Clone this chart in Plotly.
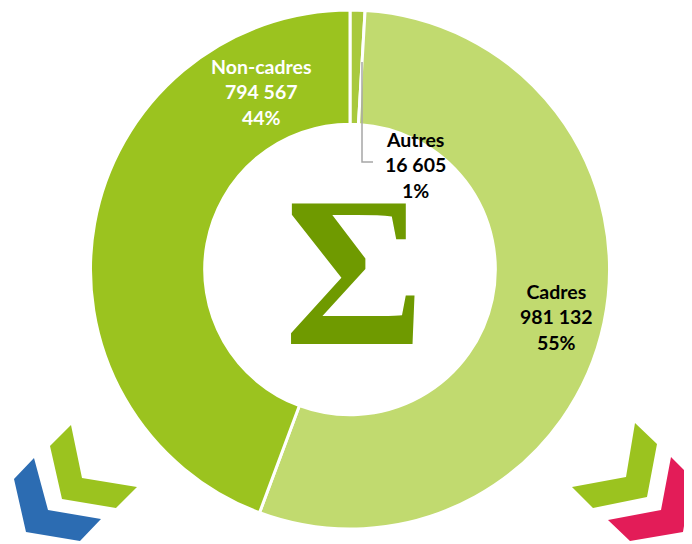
import plotly.graph_objects as go

# page offset of the figure (default body margin of the html page)
OFF = 8
PAGE_W, PAGE_H = 692, 544
W, H = PAGE_W - OFF, PAGE_H - OFF

categories = ["Autres", "Cadres", "Non-cadres"]
values = [16605, 981132, 794567]
value_labels = ["16 605", "981 132", "794 567"]
pct_labels = ["1%", "55%", "44%"]
colors = ["#a9c93d", "#c1da6f", "#9bc31f"]


def px(x, y):
    """page pixel -> paper coordinates"""
    return (x - OFF) / W, 1 - (y - OFF) / H


def path(points):
    s = ""
    for i, (x, y) in enumerate(points):
        fx, fy = px(x, y)
        s += ("M" if i == 0 else "L") + f"{fx:.5f},{fy:.5f} "
    return s + "Z"


dx0, dy0 = px(90, 529)
dx1, dy1 = px(610, 10)
fig = go.Figure()
fig.add_trace(go.Pie(
    labels=categories,
    values=values,
    sort=False,
    direction="clockwise",
    rotation=0,
    hole=0.56,
    marker=dict(colors=colors, line=dict(color="white", width=3)),
    textinfo="none",
    showlegend=False,
    domain=dict(x=[dx0, dx1], y=[dy0, dy1]),
))

label_pos = {"Autres": (415, 165, "#000000"),
             "Cadres": (556, 317, "#000000"),
             "Non-cadres": (261, 92, "#ffffff")}
annotations = []
for c, v, p in zip(categories, value_labels, pct_labels):
    x, y, col = label_pos[c]
    fx, fy = px(x, y)
    annotations.append(dict(
        x=fx, y=fy, xref="paper", yref="paper", showarrow=False,
        xanchor="center", yanchor="middle",
        text=f"<b>{c}<br>{v}<br>{p}</b>",
        font=dict(family="Lato", size=19.5, color=col), align="center",
    ))

sx, sy = px(354, 271)
annotations.append(dict(
    x=sx, y=sy, xref="paper", yref="paper", showarrow=False,
    xanchor="center", yanchor="middle",
    text="<b>Σ</b>", font=dict(family="Liberation Serif", size=215, color="#6f9a00"),
))

shapes = []
# leader line for Autres
lx0, ly0 = px(362, 62)
lx1, ly1 = px(362, 162)
lx2, ly2 = px(373, 162)
shapes.append(dict(type="path", xref="paper", yref="paper",
                   path=f"M{lx0},{ly0} L{lx1},{ly1} L{lx2},{ly2}",
                   line=dict(color="#a6a6a6", width=1.5)))

chevrons = [
    ([(50, 446), (62, 499), (116, 508), (137, 487), (82, 478), (71, 425)], "#9bc31f"),
    ([(14, 479), (26, 532), (80, 541), (101, 519), (48, 510), (34, 458)], "#2c6cb2"),
    ([(635, 423), (657, 444), (647, 497), (593, 508), (572, 487), (626, 477)], "#9bc31f"),
    ([(671, 457), (692, 478), (683, 532), (630, 541), (608, 520), (661, 510)], "#e31c58"),
]
for pts, col in chevrons:
    shapes.append(dict(type="path", xref="paper", yref="paper", path=path(pts),
                       fillcolor=col, line=dict(width=0), layer="above"))

fig.update_layout(
    width=W, height=H,
    margin=dict(l=0, r=0, t=0, b=0),
    paper_bgcolor="white", plot_bgcolor="white",
    annotations=annotations, shapes=shapes,
)

fig.write_html("out.html")
